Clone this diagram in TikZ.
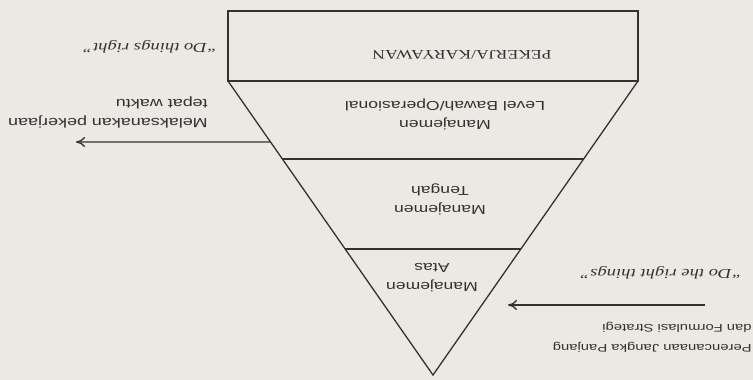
\documentclass[tikz,border=0pt]{standalone}
\usepackage{fontspec}
\setmainfont{Liberation Serif}
\setsansfont{Liberation Sans}
\usetikzlibrary{calc,arrows.meta}
\definecolor{paper}{RGB}{236,233,228}
\definecolor{ink}{RGB}{50,50,50}
\tikzset{
  flip/.style={rotate=180, xscale=1.35, transform shape, text=ink, inner sep=0pt},
  lvl/.style={flip, font=\sffamily\fontsize{13}{19}\selectfont, align=center},
  caps/.style={flip, font=\rmfamily\fontsize{13.1}{14}\selectfont},
  side/.style={flip, font=\sffamily\fontsize{13.3}{19}\selectfont, align=left, anchor=west},
  motto/.style={flip, font=\rmfamily\itshape\fontsize{13.8}{14}\selectfont},
  edge/.style={draw=ink, line width=1.3pt},
  pointer/.style={edge, -{To[length=9pt,width=10pt]}},
}
\begin{document}
\begin{tikzpicture}[x=1pt,y=-1pt]
\fill[paper] (0,0) rectangle (753,380);
\useasboundingbox (0,0) rectangle (753,380);
% box and inverted triangle
\coordinate (tl) at (228,11);
\coordinate (br) at (638,81);
\coordinate (bl) at (228,81);
\coordinate (apex) at (433,375);
\draw[edge] (tl) rectangle (br);
\draw[edge] (bl) -- (apex) -- (br);
% band lines
\coordinate (lowL) at ($(bl)!0.2653!(apex)$);
\coordinate (lowR) at ($(br)!0.2653!(apex)$);
\coordinate (midL) at ($(bl)!0.5714!(apex)$);
\coordinate (midR) at ($(br)!0.5714!(apex)$);
\draw[edge] (lowL) -- (lowR);
\draw[edge] (midL) -- (midR);
% labels
\node[caps] (worker) at (462,55) {PEKERJA/KARYAWAN};
\node[lvl] (lower) at (445,114) {Manajemen\\Level Bawah/Operasional};
\node[lvl] (middle) at (440,199) {Manajemen\\Tengah};
\node[lvl] (upper) at (432,278) {Manajemen\\Atas};
\node[motto] (thingsright) at (150,47) {``Do things right''};
\node[side] (ontime) at (208,112) {Melaksanakan pekerjaan\\tepat waktu};
\node[motto] (rightthings) at (661,273) {``Do the right things''};
\node[side, font=\sffamily\fontsize{11}{20}\selectfont] (plan) at (752,337) {Perencanaan Jangka Panjang\\dan Formulasi Strategi};
% arrows
\coordinate (lowfoot) at ($(bl)!0.2075!(apex)$);
\coordinate (lowtip) at (76,142);
\draw[pointer] (lowfoot) -- (lowtip);
\coordinate (planfoot) at (705,305);
\coordinate (plantip) at (508,305);
\draw[pointer] (planfoot) -- (plantip);
\end{tikzpicture}
\end{document}
